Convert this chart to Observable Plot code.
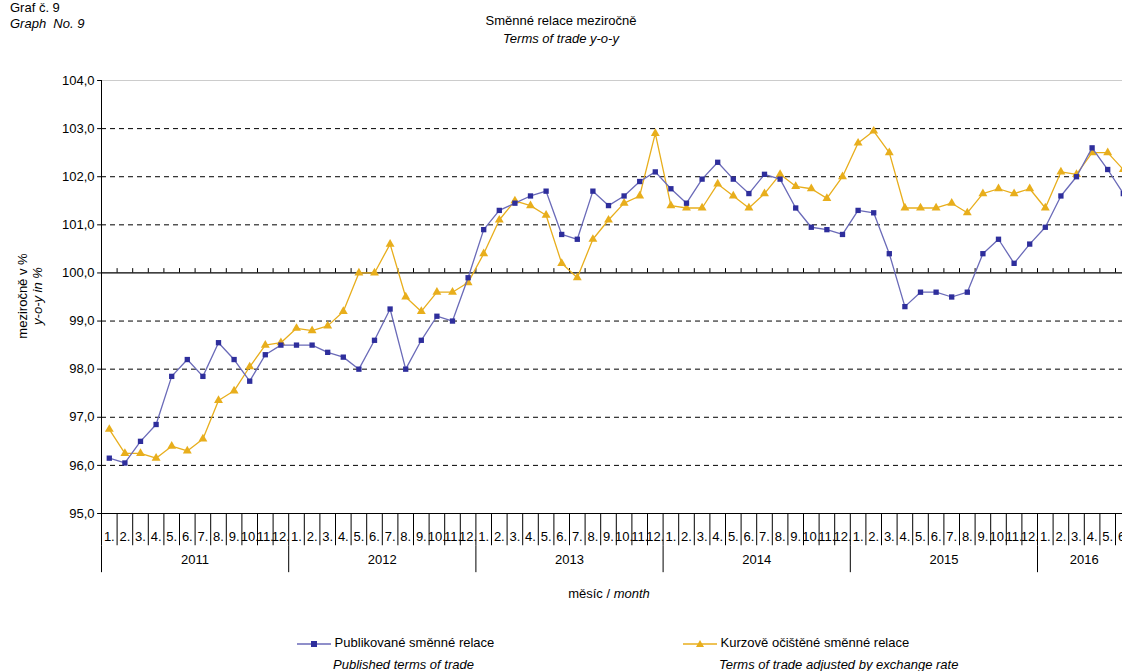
<!DOCTYPE html>
<html><head><meta charset="utf-8">
<script src="https://cdn.jsdelivr.net/npm/d3@7"></script>
<script src="https://cdn.jsdelivr.net/npm/@observablehq/plot@0.6"></script>
<style>
body{margin:0;font-family:Arial,"Liberation Sans",sans-serif;background:#fff;}
#wrap{position:relative;width:1122px;height:671px;overflow:hidden;}
.t{position:absolute;font-size:13px;color:#000;white-space:nowrap;}
i{font-style:italic;}
#chart{position:absolute;left:0;top:0;}
</style></head><body>
<div id="wrap">
<div id="chart"></div>
<div class="t" style="left:10px;top:0px;line-height:16px">Graf č. 9<br><i>Graph&nbsp; No. 9</i></div>
<div class="t" style="left:561px;top:12px;transform:translateX(-50%);text-align:center;line-height:18px">Směnné relace meziročně<br><i>Terms of trade y-o-y</i></div>
<div class="t" style="left:30px;top:296px;transform:translate(-50%,-50%) rotate(-90deg);text-align:center;line-height:15px">meziročně v %<br><i>y-o-y in %</i></div>
<div class="t" style="left:609px;top:586px;transform:translateX(-50%)">měsíc / <i>month</i></div>
<div class="t" style="left:297px;top:632px;line-height:22px"><span id="lg1"></span> Publikované směnné relace<br><i style="margin-left:36px">Published terms of trade</i></div>
<div class="t" style="left:683px;top:632px;line-height:22px"><span id="lg2"></span> Kurzově očištěné směnné relace<br><i style="margin-left:36px">Terms of trade adjusted by exchange rate</i></div>
</div>
<script>
const years = ["2011", "2012", "2013", "2014", "2015", "2016"];
const published = [
  96.15, 96.05, 96.5, 96.85, 97.85, 98.2, 97.85, 98.55, 98.2, 97.75, 98.3, 98.5,
  98.5, 98.5, 98.35, 98.25, 98.0, 98.6, 99.25, 98.0, 98.6, 99.1, 99.0, 99.9,
  100.9, 101.3, 101.45, 101.6, 101.7, 100.8, 100.7, 101.7, 101.4, 101.6, 101.9, 102.1,
  101.75, 101.45, 101.95, 102.3, 101.95, 101.65, 102.05, 101.95, 101.35, 100.95, 100.9, 100.8,
  101.3, 101.25, 100.4, 99.3, 99.6, 99.6, 99.5, 99.6, 100.4, 100.7, 100.2, 100.6,
  100.95, 101.6, 102.0, 102.6, 102.15, 101.65
];
const adjusted = [
  96.75, 96.25, 96.25, 96.15, 96.4, 96.3, 96.55, 97.35, 97.55, 98.05, 98.5, 98.55,
  98.85, 98.8, 98.9, 99.2, 100.0, 100.0, 100.6, 99.5, 99.2, 99.6, 99.6, 99.8,
  100.4, 101.1, 101.5, 101.4, 101.2, 100.2, 99.9, 100.7, 101.1, 101.45, 101.6, 102.9,
  101.4, 101.35, 101.35, 101.85, 101.6, 101.35, 101.65, 102.05, 101.8, 101.75, 101.55, 102.0,
  102.7, 102.95, 102.5, 101.35, 101.35, 101.35, 101.45, 101.25, 101.65, 101.75, 101.65, 101.75,
  101.35, 102.1, 102.05, 102.5, 102.5, 102.15
];
const yTicks = [95, 96, 97, 98, 99, 100, 101, 102, 103, 104];

const blue = "#2e2e9c", blueLine = "#6a6ab8", gold = "#e8ae1c";
const n = published.length;
const rows = d3.range(n).map(i => ({i, m: (i % 12) + 1, pub: published[i], adj: adjusted[i]}));
const bounds = d3.range(n + 1);
const yearRows = years.map((y, k) => ({y, c: k * 12 + Math.min(12, n - k * 12) / 2}));
const fmt = v => v.toFixed(1).replace(".", ",");
// y levels below the plot for the category rows
const yMonthBot = 94.33, yYearBot = 93.77;

const chart = Plot.plot({
  width: 1122, height: 671, marginTop: 80, marginBottom: 158, marginLeft: 101, marginRight: 0,
  x: {type: "linear", domain: [0, n], range: [101, 101 + n * 15.6], axis: null},
  y: {type: "linear", domain: [95, 104], axis: null},
  style: {fontFamily: "Arial, 'Liberation Sans', sans-serif", fontSize: "13px"},
  marks: [
    Plot.ruleY(yTicks.filter(v => v !== 100 && v !== 104), {y: d => d, x1: 0, x2: n, stroke: "#000", strokeDasharray: "5,4", strokeWidth: 1}),
    Plot.ruleY([104], {y: d => d, x1: 0, x2: n, stroke: "#ccc"}),
    Plot.ruleY([95, 100], {y: d => d, x1: 0, x2: n, stroke: "#000", strokeWidth: 1.2}),
    Plot.ruleX(bounds, {x: d => d, y1: 100, y2: 100.09, stroke: "#000"}),
    Plot.ruleX([0], {x: d => d, y1: 95, y2: 104, stroke: "#000"}),
    Plot.ruleY(yTicks, {y: d => d, x1: -0.25, x2: 0, stroke: "#000"}),
    Plot.text(yTicks, {y: d => d, x: 0, dx: -7, text: fmt, textAnchor: "end", fontSize: 13}),
    Plot.ruleX(bounds, {x: d => d, y1: 95, y2: yMonthBot, stroke: "#000"}),
    Plot.ruleX(bounds.filter(d => d % 12 === 0), {x: d => d, y1: yMonthBot, y2: yYearBot, stroke: "#000"}),
    Plot.text(rows, {x: d => d.i + 0.5, y: 95, dy: 23, text: d => d.m + ".", fontSize: 13}),
    Plot.text(yearRows, {x: "c", y: yYearBot, dy: -13, text: "y", fontSize: 13}),
    Plot.line(rows, {x: d => d.i + 0.5, y: "adj", stroke: gold, strokeWidth: 1.3}),
    Plot.dot(rows, {x: d => d.i + 0.5, y: "adj", symbol: "triangle", r: 3.3, fill: gold}),
    Plot.line(rows, {x: d => d.i + 0.5, y: "pub", stroke: blueLine, strokeWidth: 1.3}),
    Plot.dot(rows, {x: d => d.i + 0.5, y: "pub", symbol: "square", r: 3, fill: blue})
  ]
});
d3.select("#chart").append(() => chart);

function legendIcon(el, color, sym) {
  const s = d3.select(el).append("svg").attr("width", 34).attr("height", 10).style("vertical-align", "middle");
  s.append("line").attr("x1", 0).attr("x2", 34).attr("y1", 5).attr("y2", 5).attr("stroke", sym === "sq" ? blueLine : color).attr("stroke-width", 1.3);
  if (sym === "sq") s.append("rect").attr("x", 14).attr("y", 2).attr("width", 6).attr("height", 6).attr("fill", color);
  else s.append("path").attr("d", "M17,1L21,8L13,8Z").attr("fill", color);
}
legendIcon("#lg1", blue, "sq");
legendIcon("#lg2", gold, "tri");
</script>
</body></html>
